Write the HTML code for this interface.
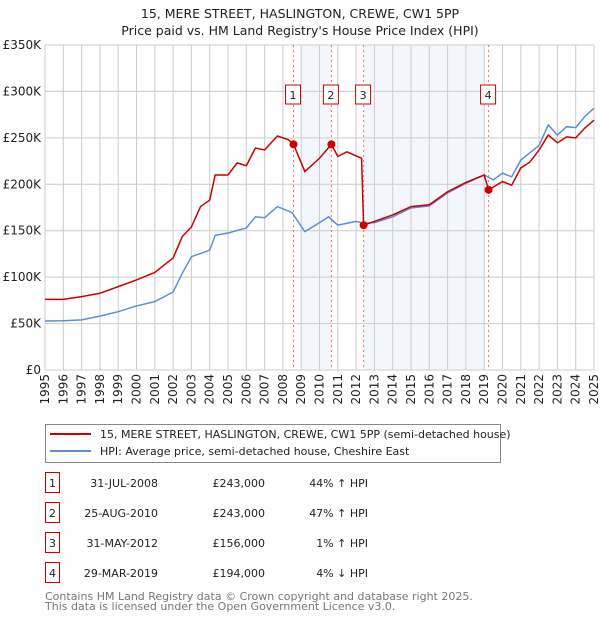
<!DOCTYPE html>
<html><head><meta charset="utf-8"><style>
body{margin:0;background:#fff;width:600px;height:620px;overflow:hidden;font-family:"DejaVu Sans","Liberation Sans",sans-serif;}
svg text{font-family:"DejaVu Sans","Liberation Sans",sans-serif;}
</style></head><body>
<svg id="chart" width="600" height="620" xmlns="http://www.w3.org/2000/svg">
<text x="300" y="18" text-anchor="middle" font-size="12.5" fill="#222">15, MERE STREET, HASLINGTON, CREWE, CW1 5PP</text>
<text x="300" y="35" text-anchor="middle" font-size="12.5" fill="#222">Price paid vs. HM Land Registry's House Price Index (HPI)</text>
<g id="shade"></g><g id="grid"></g><g id="axes"></g><g id="vlines"></g><g id="lines"></g><g id="marks"></g>
<g>
<rect x="45.5" y="424.5" width="455" height="38" fill="#fff" stroke="#888"/>
<line x1="50" y1="434" x2="91" y2="434" stroke="#cc0000" stroke-width="2"/>
<text x="100" y="438" font-size="11" fill="#222">15, MERE STREET, HASLINGTON, CREWE, CW1 5PP (semi-detached house)</text>
<line x1="50" y1="451" x2="91" y2="451" stroke="#5b8fd4" stroke-width="2"/>
<text x="100" y="455" font-size="11" fill="#222">HPI: Average price, semi-detached house, Cheshire East</text>
</g>
<g id="table"></g>
<text x="45" y="600" font-size="11" fill="#777">Contains HM Land Registry data © Crown copyright and database right 2025.</text>
<text x="45" y="610" font-size="11" fill="#777">This data is licensed under the Open Government Licence v3.0.</text>
</svg>
<script>
const hpiYears=[1995,1996,1997,1998,1999,2000,2001,2002,2002.5,2003,2004,2004.3,2005,2006,2006.5,2007,2007.7,2008.5,2009.2,2010,2010.5,2011,2012,2012.4,2013,2014,2015,2016,2017,2018,2019,2019.5,2020,2020.5,2021,2021.5,2022,2022.5,2023,2023.5,2024,2024.5,2025];
const hpiValues=[52800,53000,54000,58000,62800,69000,73600,84000,104000,122000,129000,145000,147500,153000,165000,164000,176000,169500,149000,158700,165000,156000,160000,158000,158700,165000,174500,176700,190700,201000,210000,204700,212000,208000,226000,234000,242000,264000,253000,262000,261000,273000,282000];
const priceYears=[1995,1996,1997,1998,1999,2000,2001,2002,2002.5,2003,2003.5,2004,2004.3,2005,2005.5,2006,2006.5,2007,2007.7,2008.3,2008.58,2009.2,2010,2010.65,2011,2011.5,2012.3,2012.41,2013,2014,2015,2016,2017,2018,2019,2019.24,2020,2020.5,2021,2021.5,2022,2022.5,2023,2023.5,2024,2024.5,2025];
const priceValues=[76000,76000,79000,82600,89800,97000,105000,120700,143600,154000,176000,183000,210000,210000,223000,220000,239000,237000,252000,248000,243000,213700,228000,243000,230000,235000,228000,156000,160000,167000,176000,178000,192000,202000,210000,194000,203000,199000,217600,224000,237000,253000,244600,251000,250000,260600,269000];
const saleYears=[2008.58,2010.65,2012.41,2019.24];
const saleValues=[243000,243000,156000,194000];
const saleLabels=["1","2","3","4"];
const saleDates=["31-JUL-2008","25-AUG-2010","31-MAY-2012","29-MAR-2019"];
const salePrices=["£243,000","£243,000","£156,000","£194,000"];
const saleHpi=["44% ↑ HPI","47% ↑ HPI","1% ↑ HPI","4% ↓ HPI"];
const yTicks=[0,50000,100000,150000,200000,250000,300000,350000];
const yTickLabels=["£0","£50K","£100K","£150K","£200K","£250K","£300K","£350K"];
const xTicks=[1995,1996,1997,1998,1999,2000,2001,2002,2003,2004,2005,2006,2007,2008,2009,2010,2011,2012,2013,2014,2015,2016,2017,2018,2019,2020,2021,2022,2023,2024,2025];

const NS="http://www.w3.org/2000/svg";
const X0=45,X1=594,Y0=370,Y1=45;
const sx=y=>X0+(y-1995)/30*(X1-X0);
const sy=v=>Y0-v/350000*(Y0-Y1);
function mk(tag,attrs,parent,txt){const e=document.createElementNS(NS,tag);for(const k in attrs)e.setAttribute(k,attrs[k]);if(txt!==undefined)e.textContent=txt;document.getElementById(parent).appendChild(e);return e;}

let r;
r=mk('rect',{x:sx(2009),y:Y1,width:sx(saleYears[1])-sx(2009),height:Y0-Y1,fill:'#eef3fc',opacity:0.7},'shade');


r=mk('rect',{x:sx(saleYears[2]),y:Y1,width:sx(2019)-sx(saleYears[2]),height:Y0-Y1,fill:'#eef3fc',opacity:0.7},'shade');



yTicks.forEach((v,i)=>{
  const l=mk('line',{x1:X0,x2:X1,y1:sy(v),y2:sy(v),stroke:'#ccc'},'grid');
  
  
  const t=mk('text',{x:X0-4,y:sy(v)+4,'text-anchor':'end','font-size':12,fill:'#222'},'axes',yTickLabels[i]);
  
  
});
xTicks.forEach(y=>{
  const l=mk('line',{x1:sx(y),x2:sx(y),y1:Y1,y2:Y0,stroke:'#ccc'},'grid');
  
  
  const px=sx(y)+4, py=Y0+4;
  const t=mk('text',{x:px,y:py,'text-anchor':'end','font-size':12,fill:'#222',transform:'rotate(-90 '+px+' '+py+')'},'axes',String(y));
  
  
});

saleYears.forEach((y,i)=>{
  const l=mk('line',{x1:sx(y),x2:sx(y),y1:Y1,y2:Y0,stroke:'#f07070','stroke-dasharray':'2,3'},'vlines');
  
  
  const b=mk('rect',{x:sx(y)-8,y:85,width:15,height:19,fill:'#fff',stroke:'#cc0000'},'vlines');
  
  
  const t=mk('text',{x:sx(y)-0.5,y:99,'text-anchor':'middle','font-size':11,fill:'#222'},'vlines',saleLabels[i]);
  
  
});

const hp=mk('polyline',{points:hpiYears.map((y,i)=>sx(y)+','+sy(hpiValues[i])).join(' '),fill:'none',stroke:'#5b8fd4','stroke-width':1.5},'lines');


const pp=mk('polyline',{points:priceYears.map((y,i)=>sx(y)+','+sy(priceValues[i])).join(' '),fill:'none',stroke:'#cc0000','stroke-width':1.5},'lines');


saleYears.forEach((y,i)=>{
  const c=mk('circle',{cx:sx(y),cy:sy(saleValues[i]),r:4,fill:'#cc0000'},'marks');
  
  
});

const rowY=[483,513,543,573];
saleLabels.forEach((s,i)=>{
  const b=mk('rect',{x:45.5,y:rowY[i]-10.5,width:14,height:20,fill:'#fff',stroke:'#cc0000'},'table');
  
  
  const t1=mk('text',{x:52.5,y:rowY[i]+4,'text-anchor':'middle','font-size':11,fill:'#222'},'table',s);
  
  
  const t2=mk('text',{x:158,y:rowY[i]+4,'text-anchor':'end','font-size':11,fill:'#222'},'table',saleDates[i]);
  
  
  const t3=mk('text',{x:265,y:rowY[i]+4,'text-anchor':'end','font-size':11,fill:'#222'},'table',salePrices[i]);
  
  
  const t4=mk('text',{x:368,y:rowY[i]+4,'text-anchor':'end','font-size':11,fill:'#222'},'table',saleHpi[i]);
  
  
});
</script>
</body></html>
